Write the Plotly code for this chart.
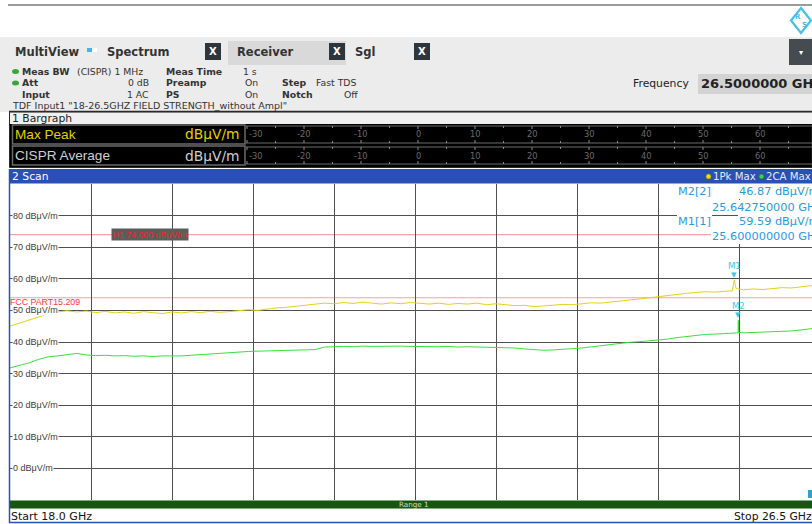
import plotly.graph_objects as go

W, H = 812, 524
FONT = "DejaVu Sans"
ARIAL = "Liberation Sans"

# ---------------- data ----------------
f_start, f_stop = 18.0, 26.5

freq_pk = [18.0, 18.1, 18.2, 18.3, 18.4, 18.5, 18.6, 18.7, 18.8, 18.9,
           19.0, 19.1, 19.2, 19.3, 19.4, 19.5, 19.6, 19.7, 19.8, 19.9,
           20.0, 20.1, 20.2, 20.3, 20.4, 20.5, 20.6, 20.7, 20.8, 20.9,
           21.0, 21.1, 21.2, 21.3, 21.4, 21.5, 21.6, 21.7, 21.8, 21.9,
           22.0, 22.1, 22.2, 22.3, 22.4, 22.5, 22.6, 22.7, 22.8, 22.9,
           23.0, 23.1, 23.2, 23.3, 23.4, 23.5, 23.6, 23.7, 23.8, 23.9,
           24.0, 24.1, 24.2, 24.3, 24.4, 24.5, 24.6, 24.7, 24.8, 24.9,
           25.0, 25.1, 25.2, 25.3, 25.4, 25.5, 25.58, 25.6, 25.62,
           25.7, 25.8, 25.9, 26.0, 26.1, 26.2, 26.3, 26.4, 26.5]
level_pk = [45.0, 46.0, 46.9, 47.8, 48.9, 49.5, 49.9, 49.5, 49.8, 49.3,
            49.7, 49.2, 49.5, 49.1, 49.6, 49.3, 49.0, 49.5, 49.2, 49.6,
            49.3, 49.7, 49.4, 49.6, 50.0, 50.2, 50.0, 50.5, 50.8, 51.0,
            51.3, 51.6, 51.9, 52.3, 52.1, 52.5, 52.2, 52.6, 52.3, 52.0,
            52.4, 52.1, 52.5, 52.2, 52.0, 52.3, 51.9, 52.2, 52.0, 52.3,
            51.8, 52.1, 51.7, 51.5, 51.6, 51.2, 51.4, 51.7, 51.9, 51.8,
            52.1, 52.4, 52.3, 52.7, 53.0, 53.3, 53.6, 54.0, 54.3, 54.8,
            55.1, 55.4, 55.7, 55.9, 55.8, 56.1, 56.2, 59.59, 56.9,
            56.5, 56.8, 56.6, 57.0, 57.2, 57.1, 57.5, 57.8, 58.0]

freq_avg = [18.0, 18.1, 18.2, 18.3, 18.4, 18.5, 18.6, 18.7, 18.8, 18.9,
            19.0, 19.1, 19.2, 19.3, 19.4, 19.5, 19.6, 19.7, 19.8, 19.9,
            20.0, 20.1, 20.2, 20.3, 20.4, 20.5, 20.6, 20.7, 20.8, 20.9,
            21.0, 21.1, 21.2, 21.3, 21.4, 21.5, 21.6, 21.7, 21.8, 21.9,
            22.0, 22.1, 22.2, 22.3, 22.4, 22.5, 22.6, 22.7, 22.8, 22.9,
            23.0, 23.1, 23.2, 23.3, 23.4, 23.5, 23.6, 23.7, 23.8, 23.9,
            24.0, 24.1, 24.2, 24.3, 24.4, 24.5, 24.6, 24.7, 24.8, 24.9,
            25.0, 25.1, 25.2, 25.3, 25.4, 25.5, 25.6, 25.64, 25.64275, 25.646,
            25.7, 25.8, 25.9, 26.0, 26.1, 26.2, 26.3, 26.4, 26.5]
level_avg = [31.8, 32.6, 33.4, 34.5, 35.3, 35.6, 36.0, 36.4, 35.9, 35.7,
             35.8, 35.6, 35.7, 35.5, 35.6, 35.4, 35.6, 35.5, 35.6, 35.8,
             36.0, 36.3, 36.6, 36.8, 36.9, 37.0, 37.1, 37.2, 37.3, 37.3,
             37.4, 37.5, 37.6, 38.4, 38.6, 38.6, 38.5, 38.7, 38.6, 38.7,
             38.6, 38.7, 38.6, 38.5, 38.6, 38.5, 38.6, 38.4, 38.5, 38.4,
             38.5, 38.4, 38.3, 38.1, 37.8, 37.5, 37.4, 37.5, 37.6, 37.9,
             38.1, 38.5, 38.9, 39.3, 39.7, 39.9, 40.1, 40.3, 40.5, 40.9,
             41.4, 41.8, 42.2, 42.4, 42.5, 42.7, 42.9, 42.9, 46.87, 43.0,
             42.9, 43.0, 43.2, 43.1, 43.4, 43.5, 43.8, 44.3, 44.6]

marker_names = ["M1", "M2"]
marker_traces = [1, 2]
marker_freqs = [25.6, 25.64275]
marker_levels = [59.59, 46.87]

limit_h1 = 74.0
limit_fcc = 54.0
y_ticks = [80, 70, 60, 50, 40, 30, 20, 10, 0]
bar_ticks = [-30, -20, -10, 0, 10, 20, 30, 40, 50, 60, 70]
bar_rows = ["Max Peak", "CISPR Average"]

# ---------------- helpers ----------------
def px(x):
    return x / W


def py(y):
    return 1 - y / H


shapes = []
ann = []


def rect(x0, y0, x1, y1, fill, line=None, lw=0, layer="above"):
    shapes.append(dict(type="rect", xref="paper", yref="paper",
                       x0=px(x0), x1=px(x1), y0=py(y1), y1=py(y0),
                       fillcolor=fill, layer=layer,
                       line=dict(color=line or "rgba(0,0,0,0)", width=lw)))


def hline(x0, x1, y, color, lw=1, layer="above"):
    shapes.append(dict(type="line", xref="paper", yref="paper",
                       x0=px(x0), x1=px(x1), y0=py(y), y1=py(y),
                       line=dict(color=color, width=lw), layer=layer))


def vline(x, y0, y1, color, lw=1, layer="above"):
    shapes.append(dict(type="line", xref="paper", yref="paper",
                       x0=px(x), x1=px(x), y0=py(y0), y1=py(y1),
                       line=dict(color=color, width=lw), layer=layer))


def txt(x, y, s, size=9.4, color="#333333", anchor="left", family=FONT,
        bg=None, pad=0):
    d = dict(x=px(x), y=py(y), xref="paper", yref="paper", text=s,
             showarrow=False, xanchor=anchor, yanchor="middle",
             font=dict(family=family, size=size, color=color),
             borderpad=pad, borderwidth=0)
    if bg:
        d["bgcolor"] = bg
    ann.append(d)


# ---------------- top chrome ----------------
hline(8, 812, 5, "#7a7a7a", 1.5)
# R&S logo
dpath = "M {},{} L {},{} L {},{} L {},{} Z".format(
    px(801), py(8), px(811), py(20.5), px(801), py(33), px(791), py(20.5))
shapes.append(dict(type="path", xref="paper", yref="paper", path=dpath,
                   line=dict(color="#45c0ea", width=2.2), fillcolor="white"))
txt(797.5, 17, "<b>R</b>", 7, "#45c0ea", "center")
txt(804, 24.5, "<b>S</b>", 7, "#45c0ea", "center")

rect(0, 37, 812, 112, "#ececec")
hline(9, 812, 111.5, "#2a2a2a", 1.5)

# tabs
txt(15, 52, "<b>MultiView</b>", 11.5, "#333333")
rect(87, 48, 92, 52, "#3fb7ee")
rect(92, 48, 97, 52, "#ffffff")
txt(107, 52, "<b>Spectrum</b>", 11.5, "#333333")
rect(228, 41, 346, 65, "#d9d9d9")
txt(237, 52, "<b>Receiver</b>", 11.5, "#333333")
txt(355, 52, "<b>Sgl</b>", 11.5, "#333333")
for bxx in (205, 329, 414):
    rect(bxx, 43, bxx + 16, 60, "#2e363d")
    txt(bxx + 8, 51.5, "<b>X</b>", 10, "#ffffff", "center")
rect(789, 39, 812, 65, "#454b50")
txt(800.5, 52, "▾", 8, "#ffffff", "center")

# info lines
for yy in (71.5, 83):
    shapes.append(dict(type="circle", xref="paper", yref="paper",
                       x0=px(12), x1=px(19), y0=py(yy + 2.5), y1=py(yy - 2.5),
                       fillcolor="#3aa63a", line=dict(width=0)))
txt(22, 71.5, "<b>Meas BW</b>", 9.3)
txt(77, 71.5, "(CISPR) 1 MHz", 9.3)
txt(166, 71.5, "<b>Meas Time</b>", 9.3)
txt(243, 71.5, "1 s", 9.3)
txt(22, 83, "<b>Att</b>", 9.3)
txt(149, 83, "0 dB", 9.3, anchor="right")
txt(166, 83, "<b>Preamp</b>", 9.3)
txt(245, 83, "On", 9.3)
txt(282, 83, "<b>Step</b>", 9.3)
txt(316, 83, "Fast TDS", 9.3)
txt(22, 94.5, "<b>Input</b>", 9.3)
txt(149, 94.5, "1 AC", 9.3, anchor="right")
txt(166, 94.5, "<b>PS</b>", 9.3)
txt(245, 94.5, "On", 9.3)
txt(282, 94.5, "<b>Notch</b>", 9.3)
txt(358, 94.5, "Off", 9.3, anchor="right")
txt(12, 105.5, 'TDF Input1 "18-26.5GHZ FIELD STRENGTH_without Ampl"', 9.5)

txt(633, 84, "Frequency", 10.8, "#222222")
rect(698, 74, 812, 94, "#d3d3d3")
txt(701, 84, "<b>{:.7f} GHz</b>".format(f_stop), 13, "#222222")

# ---------------- bargraph ----------------
rect(9.5, 112, 812, 167.5, "#000000", "#2a2a2a", 1)
rect(10, 112.5, 812, 124, "#f0f0f0")
txt(12, 118, "1 Bargraph", 10.8, "#222222")


def bx(v):
    return 418 + 5.7 * v


row_geo = [(125, 144), (146, 165)]
row_col = ["#e6cf00", "#cfcfcf"]
for (yt, yb), name, col in zip(row_geo, bar_rows, row_col):
    rect(12.5, yt, 245, yb, "#000000", "#6a6a6a", 1.5)
    txt(15, (yt + yb) / 2, name, 13.6, col, family=ARIAL)
    txt(240, (yt + yb) / 2, "dBμV/m", 13.8, col, "right", family=FONT)
    hline(246, 812, yt + 1, "#6a6a6a", 1)
    hline(246, 812, yb - 1, "#6a6a6a", 1)
    v = -30
    while bx(v) <= 812:
        tl = 3 if v % 10 == 0 else 2
        vline(bx(v), yt + 1, yt + 1 + tl, "#8a8a8a", 1)
        vline(bx(v), yb - 1 - tl, yb - 1, "#8a8a8a", 1)
        v += 5
    for t in bar_ticks:
        xx = bx(t)
        if t == bar_ticks[0]:
            txt(249, (yt + yb) / 2, str(t), 8.3, "#6a6a6a", "left")
        elif xx < 812:
            txt(xx, (yt + yb) / 2, str(t), 8.3, "#6a6a6a", "center")

# ---------------- scan panel ----------------
rect(9, 169, 812, 183.5, "#2a4fb5")
txt(12, 176.5, "2 Scan", 10.8, "#ffffff")
shapes.append(dict(type="circle", xref="paper", yref="paper",
                   x0=px(706), x1=px(711), y0=py(179), y1=py(174),
                   fillcolor="#f2dc00", line=dict(color="#8a7a00", width=0.5)))
txt(713, 176.5, "1Pk Max", 10.2, "#e4ebf8")
shapes.append(dict(type="circle", xref="paper", yref="paper",
                   x0=px(759), x1=px(764), y0=py(179), y1=py(174),
                   fillcolor="#3ed23e", line=dict(color="#1a6a1a", width=0.5)))
txt(766, 176.5, "2CA Max", 10.2, "#e4ebf8")

# bottom range bar
rect(10, 500.5, 812, 508.5, "#16570f")
txt(414, 504.5, "Range 1", 7.2, "#d6d6d6", "center")
rect(808, 490, 812, 498, "#2aa5c8")
txt(11, 516, "Start {:.1f} GHz".format(f_start), 11, "#111111")
txt(812, 516, "Stop {:.1f} GHz".format(f_stop), 10.8, "#111111", "right")
vline(9.5, 169, 523, "#2a4fb5", 1.5)
hline(9, 812, 522.5, "#2a4fb5", 1.5)

# limit lines (data coordinates)
for lv in (limit_h1, limit_fcc):
    shapes.append(dict(type="line", xref="x domain", yref="y", x0=0, x1=1,
                       y0=lv, y1=lv, line=dict(color="#f4a3a3", width=1.2),
                       layer="below"))
ann.append(dict(x=px(150), y=limit_h1, xref="paper", yref="y",
                text="H1 {:.3f} dBμV/m".format(limit_h1), showarrow=False,
                xanchor="center", yanchor="middle", bgcolor="#5c5c5c",
                borderpad=0.5, font=dict(family=ARIAL, size=8.8, color="#ea2a2a")))

# y tick labels
for t in y_ticks:
    ann.append(dict(x=px(12), y=t, xref="paper", yref="y",
                    text="{} dBμV/m".format(t), showarrow=False,
                    xanchor="left", yanchor="middle", bgcolor="#ffffff",
                    borderpad=0, font=dict(family=ARIAL, size=9, color="#404040")))

ann.append(dict(x=px(9), y=limit_fcc, xref="paper", yref="y", yshift=-4,
                text="FCC PART15.209", showarrow=False, xanchor="left",
                yanchor="middle", borderpad=0,
                font=dict(family=ARIAL, size=8.8, color="#ff3636")))

# marker symbols
for name, f, lv in zip(marker_names, marker_freqs, marker_levels):
    ann.append(dict(x=f, y=lv, xref="x", yref="y", text="▼", showarrow=False,
                    yshift=5, xanchor="center", yanchor="middle",
                    font=dict(family=FONT, size=7, color="#33cde6")))
    ann.append(dict(x=f, y=lv, xref="x", yref="y", text=name, showarrow=False,
                    yshift=14, xanchor="center", yanchor="middle",
                    font=dict(family=FONT, size=8.5, color="#33cde6")))

# marker table
MC = "#2a9ae0"
rows_y = [(192, 207), (221, 236)]
order = [1, 0]
for (ya, yb2), i in zip(rows_y, order):
    txt(677, ya, "{}[{}]".format(marker_names[i], marker_traces[i]), 11.3, MC, bg="#ffffff", pad=1)
    txt(738, ya, "{:.2f} dBμV/m".format(marker_levels[i]), 11.3, MC, bg="#ffffff", pad=1)
    txt(711, yb2, "{:.9f} GHz".format(marker_freqs[i]), 11.3, MC, bg="#ffffff", pad=1)

# ---------------- figure ----------------
fig = go.Figure()
fig.add_trace(go.Scatter(x=freq_pk, y=level_pk, mode="lines", name="1Pk Max",
                         line=dict(color="#e3d21a", width=1)))
fig.add_trace(go.Scatter(x=freq_avg, y=level_avg, mode="lines", name="2CA Max",
                         line=dict(color="#39e039", width=1)))

x_right = f_start + (f_stop - f_start) * (802.0 / 810.0)
fig.update_layout(
    width=W, height=H, autosize=False,
    margin=dict(l=0, r=0, t=0, b=0, pad=0),
    paper_bgcolor="#ffffff", plot_bgcolor="#ffffff",
    showlegend=False,
    xaxis=dict(domain=[px(10), 1], range=[f_start, x_right], tick0=f_start,
               dtick=(f_stop - f_start) / 10, showgrid=True, gridcolor="#505050",
               gridwidth=1, showticklabels=False, ticks="", zeroline=False,
               showline=False, fixedrange=True),
    yaxis=dict(domain=[py(500), py(184)], range=[-10, 90], tick0=0, dtick=10,
               showgrid=True, gridcolor="#505050", gridwidth=1,
               showticklabels=False, ticks="", zeroline=False, showline=False,
               fixedrange=True),
    shapes=shapes, annotations=ann,
)
fig.write_html("out.html", config={"displayModeBar": False},
               post_script="document.body.style.margin='0px';document.body.style.overflow='hidden';")
